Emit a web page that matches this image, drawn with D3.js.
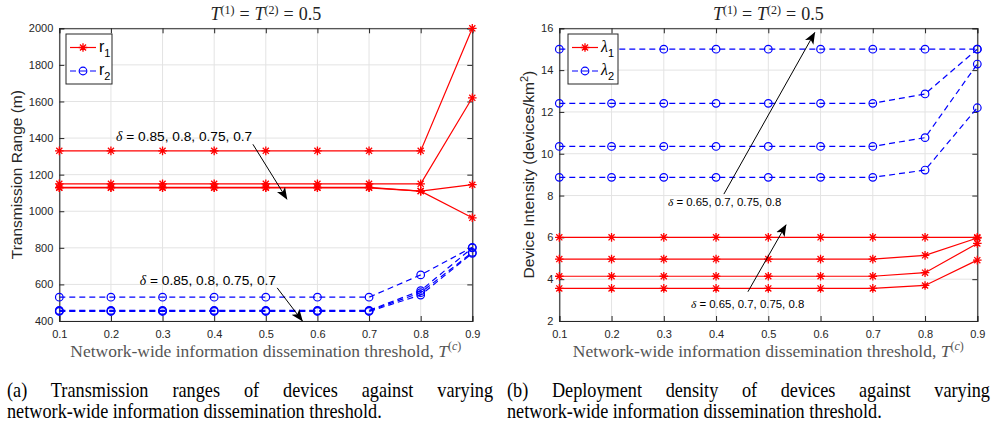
<!DOCTYPE html>
<html>
<head>
<meta charset="utf-8">
<script src="https://cdn.jsdelivr.net/npm/d3@7"></script>
<style>
  body { margin: 0; background: #fff; }
  svg { display: block; }
</style>
</head>
<body>
<svg id="fig" width="996" height="423"></svg>
<script>
// x values shared by both panels
var thresholds = [0.1, 0.2, 0.3, 0.4, 0.5, 0.6, 0.7, 0.8, 0.9];

// (a) transmission range, one row per delta
var r1Series = [
  [1330, 1330, 1330, 1330, 1330, 1330, 1330, 1330, 2000],
  [1150, 1150, 1150, 1150, 1150, 1150, 1150, 1150, 1620],
  [1130, 1130, 1130, 1130, 1130, 1130, 1130, 1110, 1145],
  [1128, 1128, 1128, 1128, 1128, 1128, 1128, 1110, 964]
];
var r2Series = [
  [530, 530, 530, 530, 530, 530, 530, 652, 803],
  [458, 458, 458, 458, 458, 458, 458, 566, 800],
  [455, 455, 455, 455, 455, 455, 455, 555, 775],
  [452, 452, 452, 452, 452, 452, 452, 542, 770]
];
var rangeTicks = [400, 600, 800, 1000, 1200, 1400, 1600, 1800, 2000];

// (b) device intensity
var lambda1Series = [
  [6.0, 6.0, 6.0, 6.0, 6.0, 6.0, 6.0, 6.0, 6.0],
  [4.96, 4.96, 4.96, 4.96, 4.96, 4.96, 4.96, 5.14, 5.97],
  [4.14, 4.14, 4.14, 4.14, 4.14, 4.14, 4.14, 4.31, 5.71],
  [3.56, 3.56, 3.56, 3.56, 3.56, 3.56, 3.56, 3.70, 4.91]
];
var lambda2Series = [
  [15.0, 15.0, 15.0, 15.0, 15.0, 15.0, 15.0, 15.0, 15.0],
  [12.41, 12.41, 12.41, 12.41, 12.41, 12.41, 12.41, 12.86, 15.0],
  [10.35, 10.35, 10.35, 10.35, 10.35, 10.35, 10.35, 10.77, 14.29],
  [8.87, 8.87, 8.87, 8.87, 8.87, 8.87, 8.87, 9.22, 12.2]
];
var densityTicks = [2, 4, 6, 8, 10, 12, 14, 16];

var svg = d3.select("#fig");
var tickFont = "Liberation Sans, Arial, sans-serif";
var serif = "Liberation Serif, Times New Roman, serif";
var axisColor = "#262626";

// arrow head definition
svg.append("defs").append("marker")
    .attr("id", "head")
    .attr("viewBox", "0 0 10 8")
    .attr("refX", 9.5).attr("refY", 4)
    .attr("markerWidth", 12).attr("markerHeight", 10)
    .attr("markerUnits", "userSpaceOnUse")
    .attr("orient", "auto")
    .append("path")
    .attr("d", "M0,0 L10,4 L0,8 L2.5,4 Z")
    .attr("fill", "#000");

function asterisk(g, x, y, color) {
  var r = 4.3;
  var d = "";
  for (var k = 0; k < 4; k++) {
    var a = k * Math.PI / 4;
    d += "M" + (x - r * Math.cos(a)) + "," + (y - r * Math.sin(a)) +
         "L" + (x + r * Math.cos(a)) + "," + (y + r * Math.sin(a));
  }
  g.append("path").attr("d", d).attr("stroke", color).attr("stroke-width", 1.3).attr("fill", "none");
}

function circleMark(g, x, y, color) {
  g.append("circle").attr("cx", x).attr("cy", y).attr("r", 3.8)
    .attr("fill", "none").attr("stroke", color).attr("stroke-width", 1.2);
}

function title(cx) {
  var t = svg.append("text")
      .attr("x", cx).attr("y", 20)
      .attr("text-anchor", "middle")
      .style("font-family", serif).style("font-size", "18px").attr("fill", "#222");
  t.append("tspan").style("font-style", "italic").text("T");
  t.append("tspan").attr("dy", -6).style("font-size", "12px").text("(1)");
  t.append("tspan").attr("dy", 6).attr("dx", 5).text("=");
  t.append("tspan").attr("dx", 5).style("font-style", "italic").text("T");
  t.append("tspan").attr("dy", -6).style("font-size", "12px").text("(2)");
  t.append("tspan").attr("dy", 6).attr("dx", 5).text("=");
  t.append("tspan").attr("dx", 5).text("0.5");
}

function drawPanel(p) {
  var x = d3.scaleLinear().domain([0.1, 0.9]).range([p.left, p.right]);
  var y = d3.scaleLinear().domain(p.yDomain).range([321, 28.3]);
  var g = svg.append("g");

  // grid
  g.selectAll(".gx").data(thresholds).enter().append("line")
    .attr("x1", function(d) { return x(d); }).attr("x2", function(d) { return x(d); })
    .attr("y1", y.range()[0]).attr("y2", y.range()[1])
    .attr("stroke", "#e3e3e3").attr("stroke-width", 1);
  g.selectAll(".gy").data(p.ticks).enter().append("line")
    .attr("x1", p.left).attr("x2", p.right)
    .attr("y1", function(d) { return y(d); }).attr("y2", function(d) { return y(d); })
    .attr("stroke", "#e3e3e3").attr("stroke-width", 1);

  // axes (ticks inward, box)
  var ax = g.append("g").attr("transform", "translate(0,321)")
    .call(d3.axisBottom(x).tickValues(thresholds).tickSize(-5).tickPadding(9).tickFormat(d3.format(".1f")));
  var ax2 = g.append("g").attr("transform", "translate(0,28.3)")
    .call(d3.axisTop(x).tickValues(thresholds).tickSize(-5).tickFormat(""));
  var ay = g.append("g").attr("transform", "translate(" + p.left + ",0)")
    .call(d3.axisLeft(y).tickValues(p.ticks).tickSize(-5).tickPadding(6).tickFormat(d3.format("d")));
  var ay2 = g.append("g").attr("transform", "translate(" + p.right + ",0)")
    .call(d3.axisRight(y).tickValues(p.ticks).tickSize(-5).tickFormat(""));
  [ax, ax2, ay, ay2].forEach(function(a) {
    a.selectAll("path").attr("stroke", axisColor).attr("stroke-width", 1.1);
    a.selectAll("line").attr("stroke", axisColor);
    a.selectAll("text").style("font-family", tickFont).style("font-size", "11px").attr("fill", axisColor);
  });

  var line = d3.line().x(function(d, i) { return x(thresholds[i]); }).y(function(d) { return y(d); });

  // series 2 (blue dashed circles)
  p.s2.forEach(function(s) {
    g.append("path").datum(s).attr("d", line)
      .attr("fill", "none").attr("stroke", "#0000ff").attr("stroke-width", 1.2)
      .attr("stroke-dasharray", "6,4");
    s.forEach(function(v, i) { circleMark(g, x(thresholds[i]), y(v), "#0000ff"); });
  });
  // series 1 (red solid asterisks)
  p.s1.forEach(function(s) {
    g.append("path").datum(s).attr("d", line)
      .attr("fill", "none").attr("stroke", "#ff0000").attr("stroke-width", 1.2);
    s.forEach(function(v, i) { asterisk(g, x(thresholds[i]), y(v), "#ff0000"); });
  });

  // annotations
  p.notes.forEach(function(n) {
    g.append("line")
      .attr("x1", x(n.from[0])).attr("y1", y(n.from[1]))
      .attr("x2", x(n.to[0])).attr("y2", y(n.to[1]))
      .attr("stroke", "#000").attr("stroke-width", 1)
      .attr("marker-end", "url(#head)");
    var t = g.append("text").attr("x", x(n.at[0])).attr("y", y(n.at[1]))
      .style("font-family", tickFont).style("font-size", p.noteSize).attr("fill", "#000");
    t.append("tspan").style("font-family", serif).style("font-style", "italic").text("δ");
    t.append("tspan").text(" = " + n.label);
  });

  // legend
  var lg = g.append("g");
  lg.append("rect").attr("x", p.legend.x).attr("y", 34).attr("width", p.legend.w).attr("height", 50)
    .attr("fill", "#fff").attr("stroke", axisColor).attr("stroke-width", 1);
  [0, 1].forEach(function(k) {
    var ly = k === 0 ? 47.5 : 71;
    var lx = p.legend.x + 4;
    var color = k === 0 ? "#ff0000" : "#0000ff";
    var l = lg.append("line").attr("x1", lx).attr("x2", lx + 26).attr("y1", ly).attr("y2", ly)
      .attr("stroke", color).attr("stroke-width", 1.2);
    if (k === 1) l.attr("stroke-dasharray", "6,4");
    if (k === 0) asterisk(lg, lx + 13, ly, color); else circleMark(lg, lx + 13, ly, color);
    var t = lg.append("text").attr("x", lx + 29).attr("y", ly + 4)
      .style("font-size", "16px").attr("fill", "#000");
    if (p.legend.greek) {
      t.style("font-family", serif).append("tspan").style("font-style", "italic").text("λ");
    } else {
      t.style("font-family", tickFont).append("tspan").text("r");
    }
    t.append("tspan").attr("dy", 5).style("font-size", "11px").style("font-style", "normal")
      .style("font-family", tickFont).text(k + 1);
  });

  // y label
  var yl = g.append("text")
    .attr("transform", "translate(" + p.ylabelX + "," + ((28.3 + 321) / 2) + ") rotate(-90)")
    .attr("text-anchor", "middle")
    .style("font-family", tickFont).style("font-size", "15.5px").attr("fill", axisColor);
  yl.append("tspan").text(p.ylabel);
  if (p.ylabelSup) {
    yl.append("tspan").attr("dy", -6).style("font-size", "11px").text(p.ylabelSup);
    yl.append("tspan").attr("dy", 6).text(")");
  }

  // x label
  var xl = g.append("text").attr("x", (p.left + p.right) / 2).attr("y", 357)
    .attr("text-anchor", "middle")
    .style("font-family", serif).style("font-size", "17.5px").attr("fill", "#555");
  xl.append("tspan").text("Network-wide information dissemination threshold, ");
  xl.append("tspan").style("font-style", "italic").text("T");
  xl.append("tspan").attr("dy", -7).style("font-size", "12px").text("(");
  xl.append("tspan").style("font-size", "12px").style("font-style", "italic").text("c");
  xl.append("tspan").style("font-size", "12px").text(")");

  title((p.left + p.right) / 2);

  // caption: tall, slightly condensed serif; first line justified through word spacing
  var sx = 0.89;
  var cap = svg.append("g").style("font-family", serif).style("font-size", "20.5px").attr("fill", "#000");
  var c1 = cap.append("text").attr("transform", "translate(" + p.cap.x + ",397) scale(" + sx + ",1)").text(p.cap.l1);
  var natural = c1.node().getComputedTextLength();
  var spaces = p.cap.l1.split(" ").length - 1;
  c1.style("word-spacing", ((p.cap.w / sx - natural) / spaces) + "px");
  cap.append("text").attr("transform", "translate(" + p.cap.x + ",418) scale(" + sx + ",1)").text(p.cap.l2);
}

drawPanel({
  left: 59.3, right: 472.3, yDomain: [400, 2000], ticks: rangeTicks,
  s1: r1Series, s2: r2Series,
  ylabel: "Transmission Range (m)", ylabelX: 22,
  legend: { x: 66, w: 46, greek: false },
  noteSize: "13.7px",
  notes: [
    { at: [0.21, 1383], from: [0.475, 1366], to: [0.541, 1066], label: "0.85, 0.8, 0.75, 0.7" },
    { at: [0.256, 599], from: [0.522, 581], to: [0.571, 400], label: "0.85, 0.8, 0.75, 0.7" }
  ],
  cap: { x: 7, w: 486, l1: "(a) Transmission ranges of devices against varying",
         l2: "network-wide information dissemination threshold." }
});

drawPanel({
  left: 559.3, right: 977.3, yDomain: [2, 16], ticks: densityTicks,
  s1: lambda1Series, s2: lambda2Series,
  ylabel: "Device Intensity (devices/km", ylabelSup: "2", ylabelX: 534,
  legend: { x: 568, w: 50, greek: true },
  noteSize: "11.4px",
  notes: [
    { at: [0.308, 7.5], from: [0.415, 8.07], to: [0.589, 15.8], label: "0.65, 0.7, 0.75, 0.8" },
    { at: [0.352, 2.62], from: [0.461, 3.40], to: [0.534, 6.6], label: "0.65, 0.7, 0.75, 0.8" }
  ],
  cap: { x: 507, w: 483, l1: "(b) Deployment density of devices against varying",
         l2: "network-wide information dissemination threshold." }
});
</script>
</body>
</html>
